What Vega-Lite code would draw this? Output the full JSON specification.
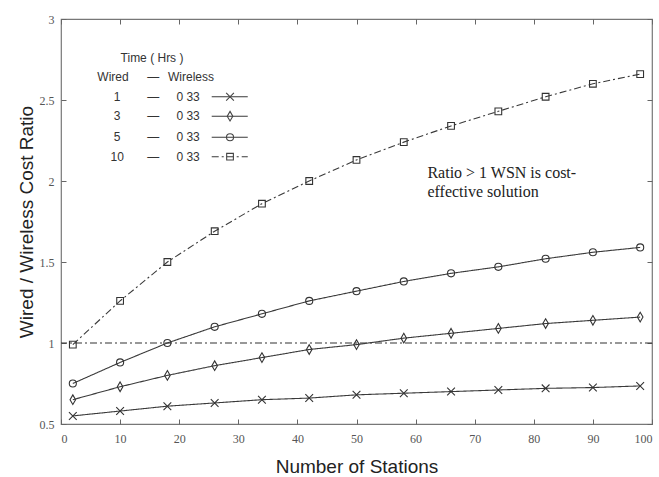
{
  "$schema": "https://vega.github.io/schema/vega-lite/v6.json",
  "width": 591,
  "height": 405,
  "autosize": {"type": "none"},
  "padding": {"left": 61, "top": 19, "right": 7, "bottom": 53},
  "config": {
    "font": "Liberation Serif",
    "view": {"stroke": "#777", "strokeWidth": 1.2},
    "axis": {"labelFont": "Liberation Serif", "labelFontSize": 12, "labelColor": "#555", "tickColor": "#666", "domain": false, "grid": false, "titleFont": "Liberation Sans Narrow, Arial Narrow, Liberation Sans, sans-serif", "titleFontSize": 19, "titleFontWeight": "normal", "titleColor": "#222"}
  },
  "datasets": {
    "ratio": [
      {"series": "10", "x": 2, "y": 0.99}, {"series": "10", "x": 10, "y": 1.26}, {"series": "10", "x": 18, "y": 1.5}, {"series": "10", "x": 26, "y": 1.69}, {"series": "10", "x": 34, "y": 1.86}, {"series": "10", "x": 42, "y": 2.0}, {"series": "10", "x": 50, "y": 2.13}, {"series": "10", "x": 58, "y": 2.24}, {"series": "10", "x": 66, "y": 2.34}, {"series": "10", "x": 74, "y": 2.43}, {"series": "10", "x": 82, "y": 2.52}, {"series": "10", "x": 90, "y": 2.6}, {"series": "10", "x": 98, "y": 2.66},
      {"series": "5", "x": 2, "y": 0.75}, {"series": "5", "x": 10, "y": 0.88}, {"series": "5", "x": 18, "y": 1.0}, {"series": "5", "x": 26, "y": 1.1}, {"series": "5", "x": 34, "y": 1.18}, {"series": "5", "x": 42, "y": 1.26}, {"series": "5", "x": 50, "y": 1.32}, {"series": "5", "x": 58, "y": 1.38}, {"series": "5", "x": 66, "y": 1.43}, {"series": "5", "x": 74, "y": 1.47}, {"series": "5", "x": 82, "y": 1.52}, {"series": "5", "x": 90, "y": 1.56}, {"series": "5", "x": 98, "y": 1.59},
      {"series": "3", "x": 2, "y": 0.65}, {"series": "3", "x": 10, "y": 0.73}, {"series": "3", "x": 18, "y": 0.8}, {"series": "3", "x": 26, "y": 0.86}, {"series": "3", "x": 34, "y": 0.91}, {"series": "3", "x": 42, "y": 0.96}, {"series": "3", "x": 50, "y": 0.99}, {"series": "3", "x": 58, "y": 1.03}, {"series": "3", "x": 66, "y": 1.06}, {"series": "3", "x": 74, "y": 1.09}, {"series": "3", "x": 82, "y": 1.12}, {"series": "3", "x": 90, "y": 1.14}, {"series": "3", "x": 98, "y": 1.16},
      {"series": "1", "x": 2, "y": 0.55}, {"series": "1", "x": 10, "y": 0.58}, {"series": "1", "x": 18, "y": 0.61}, {"series": "1", "x": 26, "y": 0.63}, {"series": "1", "x": 34, "y": 0.65}, {"series": "1", "x": 42, "y": 0.66}, {"series": "1", "x": 50, "y": 0.68}, {"series": "1", "x": 58, "y": 0.69}, {"series": "1", "x": 66, "y": 0.7}, {"series": "1", "x": 74, "y": 0.71}, {"series": "1", "x": 82, "y": 0.72}, {"series": "1", "x": 90, "y": 0.725}, {"series": "1", "x": 98, "y": 0.735}
    ],
    "threshold": [{"y": 1}],
    "legendLines": [
      {"series": "1", "x": 25.5, "y": 2.52}, {"series": "1", "x": 31.6, "y": 2.52},
      {"series": "3", "x": 25.5, "y": 2.4}, {"series": "3", "x": 31.6, "y": 2.4},
      {"series": "5", "x": 25.5, "y": 2.27}, {"series": "5", "x": 31.6, "y": 2.27},
      {"series": "10", "x": 25.5, "y": 2.15}, {"series": "10", "x": 31.6, "y": 2.15}
    ],
    "legendPoints": [
      {"series": "1", "x": 28.6, "y": 2.52},
      {"series": "3", "x": 28.6, "y": 2.4},
      {"series": "5", "x": 28.6, "y": 2.27},
      {"series": "10", "x": 28.6, "y": 2.15}
    ],
    "legendText": [
      {"x": 15.4, "y": 2.76, "t": "Time ( Hrs )"},
      {"x": 8.8, "y": 2.64, "t": "Wired"},
      {"x": 15.6, "y": 2.64, "t": "—"},
      {"x": 22, "y": 2.64, "t": "Wireless"},
      {"x": 9.5, "y": 2.52, "t": "1"}, {"x": 15.6, "y": 2.52, "t": "—"}, {"x": 21.5, "y": 2.52, "t": "0 33"},
      {"x": 9.5, "y": 2.4, "t": "3"}, {"x": 15.6, "y": 2.4, "t": "—"}, {"x": 21.5, "y": 2.4, "t": "0 33"},
      {"x": 9.5, "y": 2.27, "t": "5"}, {"x": 15.6, "y": 2.27, "t": "—"}, {"x": 21.5, "y": 2.27, "t": "0 33"},
      {"x": 9.5, "y": 2.15, "t": "10"}, {"x": 15.6, "y": 2.15, "t": "—"}, {"x": 21.5, "y": 2.15, "t": "0 33"}
    ],
    "note": [
      {"x": 62, "y": 2.05, "t": "Ratio > 1 WSN is cost-"},
      {"x": 62, "y": 1.93, "t": "effective solution"}
    ]
  },
  "layer": [
    {
      "layer": [
        {
          "data": {"name": "threshold"},
          "mark": {"type": "rule", "color": "#333", "strokeWidth": 1.2, "strokeDash": [7, 3, 2, 3]},
          "encoding": {
            "y": {"field": "y", "type": "quantitative", "scale": {"domain": [0.5, 3], "nice": false, "zero": false},
              "axis": {"title": "Wired / Wireless Cost Ratio", "values": [0.5, 1, 1.5, 2, 2.5, 3], "labelExpr": "'' + datum.value", "labelFont": "Liberation Serif", "tickSize": -5, "labelPadding": 12, "titlePadding": 3}}
          }
        },
        {
          "data": {"name": "ratio"},
          "mark": {"type": "line", "color": "#3a3a3a", "strokeWidth": 1.1},
          "encoding": {
            "x": {"field": "x", "type": "quantitative", "scale": {"domain": [0, 100], "nice": false, "zero": false},
              "axis": {"title": "Number of Stations", "values": [0, 10, 20, 30, 40, 50, 60, 70, 80, 90, 100], "labelFont": "Liberation Serif", "tickSize": -5, "labelPadding": 14, "titlePadding": 13}},
            "y": {"field": "y", "type": "quantitative"},
            "detail": {"field": "series"},
            "strokeDash": {"field": "series", "type": "nominal", "scale": {"domain": ["1", "3", "5", "10"], "range": [[1, 0], [1, 0], [1, 0], [7, 3, 2, 3]]}, "legend": null}
          }
        },
        {
          "data": {"name": "ratio"},
          "mark": {"type": "point", "filled": false, "stroke": "#333", "strokeWidth": 1.1, "opacity": 1},
          "encoding": {
            "x": {"field": "x", "type": "quantitative"},
            "y": {"field": "y", "type": "quantitative"},
            "shape": {"field": "series", "type": "nominal", "scale": {"domain": ["1", "3", "5", "10"], "range": ["M-1,-1L1,1M-1,1L1,-1", "M0,-1.3L0.75,0L0,1.3L-0.75,0Z", "circle", "square"]}, "legend": null},
            "size": {"field": "series", "type": "nominal", "scale": {"domain": ["1", "3", "5", "10"], "range": [60, 45, 85, 22]}, "legend": null}
          }
        },
        {
          "data": {"name": "legendLines"},
          "mark": {"type": "line", "color": "#3a3a3a", "strokeWidth": 1.1},
          "encoding": {
            "x": {"field": "x", "type": "quantitative"},
            "y": {"field": "y", "type": "quantitative"},
            "detail": {"field": "series"},
            "strokeDash": {"field": "series", "type": "nominal", "scale": {"domain": ["1", "3", "5", "10"], "range": [[1, 0], [1, 0], [1, 0], [4, 3, 2, 3]]}, "legend": null}
          }
        },
        {
          "data": {"name": "legendPoints"},
          "mark": {"type": "point", "filled": false, "stroke": "#444", "strokeWidth": 1.1, "opacity": 1},
          "encoding": {
            "x": {"field": "x", "type": "quantitative"},
            "y": {"field": "y", "type": "quantitative"},
            "shape": {"field": "series", "type": "nominal", "scale": {"domain": ["1", "3", "5", "10"], "range": ["M-1,-1L1,1M-1,1L1,-1", "M0,-1.3L0.75,0L0,1.3L-0.75,0Z", "circle", "square"]}, "legend": null},
            "size": {"field": "series", "type": "nominal", "scale": {"domain": ["1", "3", "5", "10"], "range": [50, 35, 60, 20]}, "legend": null}
          }
        },
        {
          "data": {"name": "legendText"},
          "mark": {"type": "text", "font": "Liberation Sans Narrow, Arial Narrow, Liberation Sans, sans-serif", "fontSize": 12, "color": "#333", "align": "center", "baseline": "middle"},
          "encoding": {
            "x": {"field": "x", "type": "quantitative"},
            "y": {"field": "y", "type": "quantitative"},
            "text": {"field": "t"}
          }
        },
        {
          "data": {"name": "note"},
          "mark": {"type": "text", "font": "Liberation Serif", "fontSize": 16, "color": "#222", "align": "left", "baseline": "middle"},
          "encoding": {
            "x": {"field": "x", "type": "quantitative"},
            "y": {"field": "y", "type": "quantitative"},
            "text": {"field": "t"}
          }
        }
      ]
    },
    {
      "data": {"name": "threshold"},
      "mark": {"type": "point", "opacity": 0},
      "encoding": {
        "x": {"datum": 50, "type": "quantitative", "axis": {"orient": "top", "labels": false, "title": null, "tickSize": -5, "values": [0, 10, 20, 30, 40, 50, 60, 70, 80, 90, 100]}},
        "y": {"field": "y", "type": "quantitative", "axis": {"orient": "right", "labels": false, "title": null, "tickSize": -5, "values": [0.5, 1, 1.5, 2, 2.5, 3]}}
      }
    }
  ],
  "resolve": {"axis": {"x": "independent", "y": "independent"}}
}
